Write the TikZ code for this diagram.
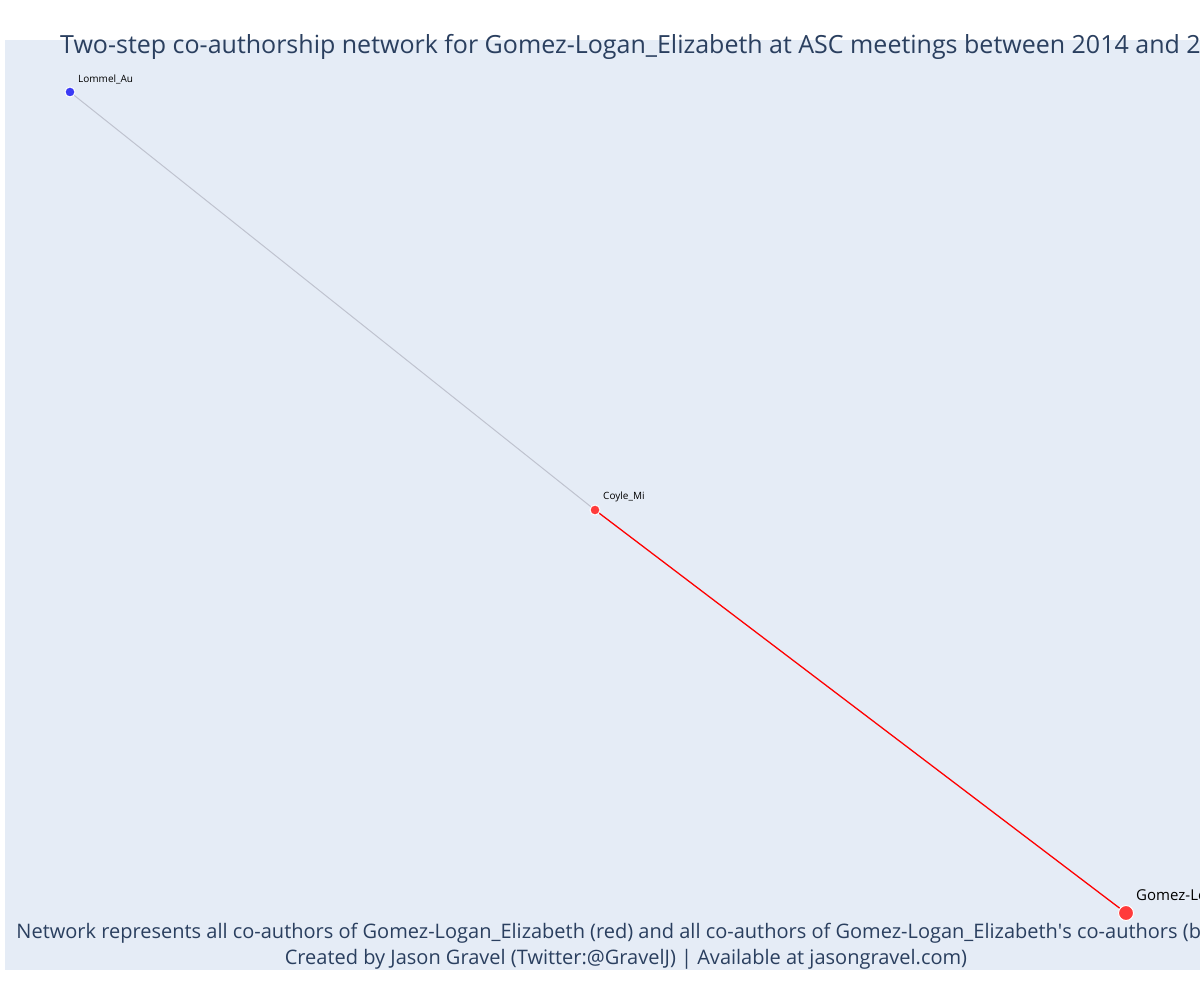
\documentclass[tikz,border=0pt]{standalone}
\usepackage{fontspec}
\setmainfont{Open Sans}
\definecolor{plotbg}{HTML}{E5ECF6}
\definecolor{txt}{HTML}{2A3F5F}
\definecolor{nodered}{HTML}{FF3B3B}
\definecolor{nodeblue}{HTML}{3B3BF5}
\definecolor{edgegray}{HTML}{BFC3CF}
\begin{document}
\begin{tikzpicture}[x=1pt,y=-1pt,
  vert/.style={circle,draw=white,line width=1pt,inner sep=0pt},
  lab/.style={anchor=base west,inner sep=0pt,text=black},
  coedge/.style={line width=1pt}]
\useasboundingbox (0,0) rectangle (1200,1000);
\fill[white] (0,0) rectangle (1200,1000);
\fill[plotbg] (5,40) rectangle (1210,970);
% vertices positions
\coordinate (pL) at (70,92);
\coordinate (pC) at (595,510);
\coordinate (pG) at (1126,913);
\draw[coedge,edgegray] (pL) -- (pC);
\draw[coedge,red,line width=1.3pt] (pC) -- (pG);
\node[vert,fill=nodeblue,minimum size=10pt] (L) at (pL) {};
\node[vert,fill=nodered,minimum size=10pt] (C) at (pC) {};
\node[vert,fill=nodered,minimum size=15pt] (G) at (pG) {};
\node[lab,font=\fontsize{10}{12}\selectfont] (Llab) at (78,83) {Lommel\_Au};
\node[lab,font=\fontsize{10}{12}\selectfont] (Clab) at (603,499) {Coyle\_Mi};
\node[lab,font=\fontsize{15}{17}\selectfont] (Glab) at (1136,900) {Gomez-Logan\_Elizabeth};
% title
\node[anchor=base west,inner sep=0pt,text=txt,font=\fontsize{25}{29}\selectfont] (title) at (60,54)
  {Two-step co-authorship network for Gomez-Logan\_Elizabeth at ASC meetings between 2014 and 2019};
% footer
\node[anchor=base,inner sep=0pt,text=txt,font=\fontsize{20}{26}\selectfont] (foot1) at (626,938)
  {Network represents all co-authors of Gomez-Logan\_Elizabeth (red) and all co-authors of Gomez-Logan\_Elizabeth\textquotesingle s co-authors (blue)};
\node[anchor=base,inner sep=0pt,text=txt,font=\fontsize{20}{26}\selectfont] (foot2) at (626,964)
  {Created by Jason Gravel (Twitter:@GravelJ) | Available at jasongravel.com)};
\end{tikzpicture}
\end{document}
